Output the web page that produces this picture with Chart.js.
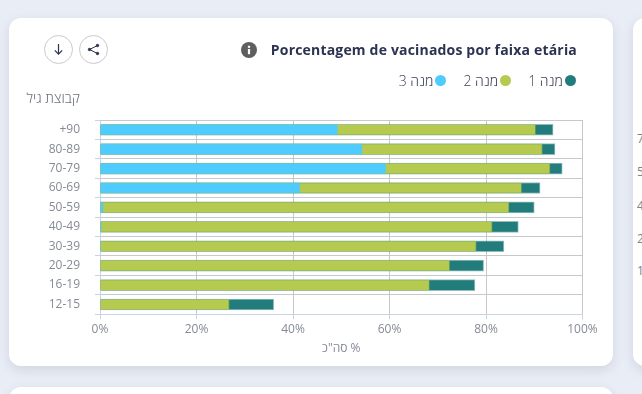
<!DOCTYPE html>
<html lang="he">
<head>
<meta charset="utf-8">
<script src="https://cdn.jsdelivr.net/npm/chart.js@4"></script>
<style>
  html, body { margin: 0; padding: 0; width: 642px; height: 394px; overflow: hidden; background: #e9edf6; font-family: "Open Sans", sans-serif; }
  .card { position: absolute; background: #fff; border-radius: 12px; box-shadow: 0 4px 12px rgba(60, 70, 100, .14); }
  #main { left: 9px; top: 18px; width: 604px; height: 348px; }
  #side { left: 633px; top: 18px; width: 300px; height: 348px; }
  #under { left: 9px; top: 387px; width: 604px; height: 100px; }
  #chart { position: absolute; left: 0; top: 0; }
  .btn { position: absolute; top: 35px; width: 27px; height: 27px; border: 1px solid #c9c9c9; border-radius: 50%; background: #fff; }
  .btn svg { position: absolute; left: 5px; top: 5px; }
  #title { position: absolute; right: 65px; top: 40px; font-size: 14px; font-weight: 700; letter-spacing: .18px; color: #2b3350; white-space: nowrap; }
  #info { position: absolute; left: 241px; top: 42px; }
  #ytitle { position: absolute; right: 562px; top: 88px; font-size: 14px; font-weight: 300; color: #6e7480; direction: rtl; white-space: nowrap; }
  #legend { position: absolute; right: 66px; top: 71px; display: flex; gap: 17px; font-size: 14px; font-weight: 300; color: #3f4558; direction: rtl; }
  #legend span { display: flex; align-items: center; gap: 2px; white-space: nowrap; }
  #legend i { display: block; width: 11px; height: 11px; border-radius: 50%; }
  .peek { position: absolute; left: 637px; font-size: 12px; color: #5f6572; opacity: .8; }
</style>
</head>
<body>
<div class="card" id="main"></div>
<div class="card" id="side"></div>
<div class="card" id="under"></div>
<span class="peek" style="top:130px">7</span>
<span class="peek" style="top:163px">5</span>
<span class="peek" style="top:197px">4</span>
<span class="peek" style="top:230px">2</span>
<span class="peek" style="top:262px">1</span>
<canvas id="chart" width="642" height="394"></canvas>
<div class="btn" style="left:44px">
  <svg width="17" height="17" viewBox="0 0 17 17" fill="none" stroke="#2b3350" stroke-width="1.2"><path d="M8.5 3v10M4.8 9.4l3.7 3.8 3.7-3.8"/></svg>
</div>
<div class="btn" style="left:79px">
  <svg width="17" height="17" viewBox="0 0 17 17" fill="#2b3350" stroke="#2b3350" stroke-width="1"><path d="M12.5 4.5L4.5 8.5l8 4" fill="none"/><circle cx="12.5" cy="4.5" r="1.2"/><circle cx="4.5" cy="8.5" r="1.2"/><circle cx="12.5" cy="12.5" r="1.2"/></svg>
</div>
<svg id="info" width="16" height="16" viewBox="0 0 16 16"><circle cx="8" cy="8" r="8" fill="#5f5f5f"/><rect x="6.9" y="7" width="2.2" height="5.2" fill="#fff"/><rect x="6.9" y="3.8" width="2.2" height="2" fill="#fff"/></svg>
<div id="title">Porcentagem de vacinados por faixa etária</div>
<div id="ytitle">קבוצת גיל</div>
<div id="legend"></div>
<script>
const categories = ['+90', '80-89', '70-79', '60-69', '50-59', '40-49', '30-39', '20-29', '16-19', '12-15'];
const dose3 = [49.3, 54.4, 59.3, 41.5, 0.7, 0.3, 0.1, 0, 0, 0];
const dose2 = [90.3, 91.7, 93.3, 87.4, 84.8, 81.3, 78.0, 72.5, 68.3, 26.8];
const dose1 = [93.9, 94.3, 95.8, 91.2, 90.0, 86.7, 83.7, 79.5, 77.7, 36.0];
const xTicks = [0, 20, 40, 60, 80, 100];

const GRID = '#c6c8cc';
const AXIS = '#c9d3e6';
const TEXT = '#858a94';

const chart = new Chart(document.getElementById('chart').getContext('2d'), {
  type: 'bar',
  data: {
    labels: categories,
    datasets: [
      { label: 'מנה 3', data: dose3, backgroundColor: '#4ecbff', borderColor: 'rgba(78,203,255,.35)', borderWidth: 1 },
      { label: 'מנה 2', data: dose2, backgroundColor: '#b5ca4e', borderColor: 'rgba(181,202,78,.35)', borderWidth: 1 },
      { label: 'מנה 1', data: dose1, backgroundColor: '#237c7c', borderColor: 'rgba(35,124,124,.5)', borderWidth: 1 }
    ]
  },
  options: {
    indexAxis: 'y',
    responsive: false,
    animation: false,
    layout: { padding: { left: 0, right: 59.5, top: 120, bottom: 38 } },
    datasets: { bar: { barThickness: 11, grouped: false } },
    plugins: {
      tooltip: { enabled: false },
      legend: { display: false }
    },
    scales: {
      x: {
        min: 0,
        max: 100,
        afterBuildTicks: scale => { scale.ticks = xTicks.map(value => ({ value })); },
        grid: { color: GRID, tickColor: AXIS, tickLength: 5 },
        border: { color: AXIS },
        ticks: { color: TEXT, font: { family: '"Open Sans"', size: 12 }, padding: 3, maxRotation: 0, callback: v => v + '%' },
        title: { display: true, text: 'סה"כ %', color: TEXT, font: { family: '"Open Sans"', size: 12 }, padding: { top: 2, bottom: 0 } }
      },
      y: {
        afterFit: scale => { scale.width = 100; },
        grid: { color: GRID, tickColor: AXIS, tickLength: 5 },
        border: { color: AXIS },
        ticks: { color: TEXT, font: { family: '"Open Sans"', size: 12 }, padding: 15 }
      }
    }
  }
});

// html legend, dot sits right up against the label like in the original
const legend = document.getElementById('legend');
chart.data.datasets.slice().reverse().forEach(ds => {
  const item = document.createElement('span');
  const dot = document.createElement('i');
  dot.style.background = ds.backgroundColor;
  item.append(dot, ds.label);
  legend.append(item);
});
</script>
</body>
</html>
